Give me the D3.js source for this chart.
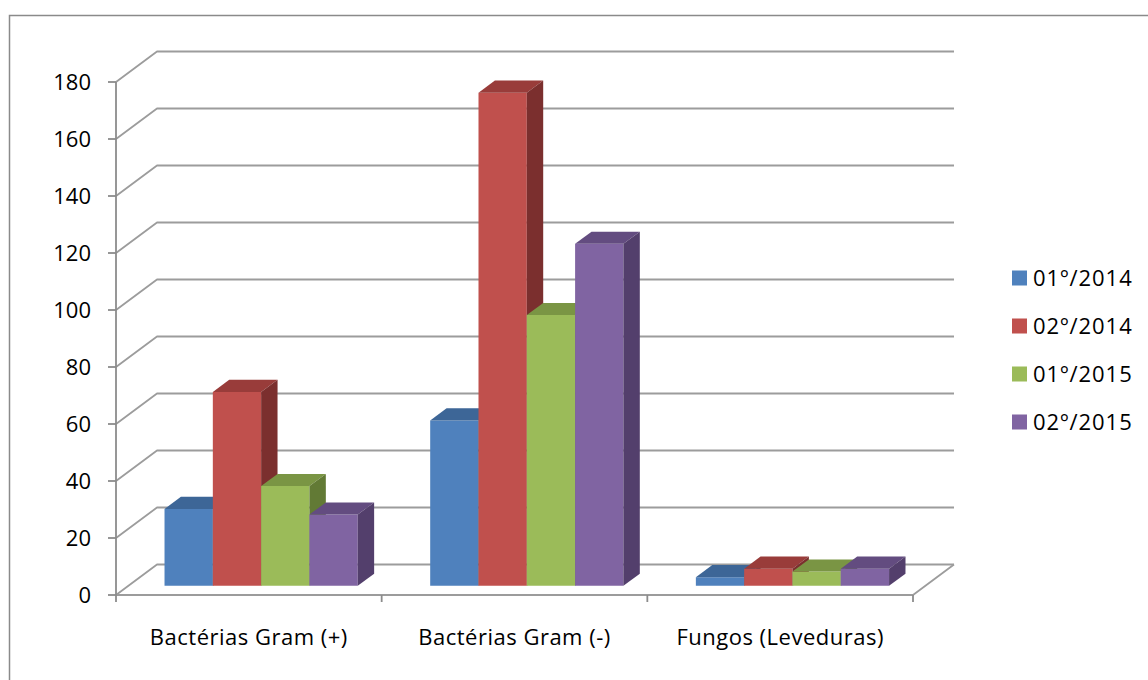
<!DOCTYPE html>
<html>
<head>
<meta charset="utf-8">
<script src="https://cdn.jsdelivr.net/npm/d3@7/dist/d3.min.js"></script>
<style>
  html, body { margin: 0; padding: 0; background: #fff; }
  svg { display: block; }
  text { font-family: "Open Sans", "Noto Sans", sans-serif; fill: #000; }
</style>
</head>
<body>
<svg id="chart" width="1148" height="680"></svg>
<script>
// Chart data
const categories = ["Bactérias Gram (+)", "Bactérias Gram (-)", "Fungos (Leveduras)"];
const series = ["01º/2014", "02º/2014", "01º/2015", "02º/2015"];
const values01_2014 = [27, 58, 3];
const values02_2014 = [68, 173, 6];
const values01_2015 = [35, 95, 5];
const values02_2015 = [25, 120, 6];
const yTicks = [0, 20, 40, 60, 80, 100, 120, 140, 160, 180];

const seriesValues = [values01_2014, values02_2014, values01_2015, values02_2015];

// Face colours per series: front, top, side
const palette = [
  { front: "#4F81BD", top: "#3D6697", side: "#2F5079" },
  { front: "#C0504D", top: "#993C3A", side: "#7B2F2E" },
  { front: "#9BBB59", top: "#7A9544", side: "#627A35" },
  { front: "#8064A2", top: "#634C80", side: "#533F6C" }
];

const svg = d3.select("#chart");

// Oblique 3D projection: depth d in [0,1] shifts a point right and up
const DX = 41, DY = -30.5;
const x0 = d3.scaleBand().domain(categories).range([116, 913]).padding(0);
const x1 = d3.scaleBand().domain(series).range([0, x0.bandwidth()]).paddingInner(0).paddingOuter(0.75);
const y = d3.scaleLinear().domain([0, 180]).range([595, 82]);
const P = (x, v, d) => [x + d * DX, y(v) + d * DY];
const poly = pts => "M" + pts.map(p => p.join(",")).join("L") + "Z";

// Outer frame
svg.append("rect")
  .attr("x", 9.5).attr("y", 15.5)
  .attr("width", 1160).attr("height", 700)
  .attr("fill", "none").attr("stroke", "#8a8a8a").attr("stroke-width", 1.5);

const grid = svg.append("g")
  .attr("fill", "none").attr("stroke", "#9c9c9c").attr("stroke-width", 1.8)
  .attr("stroke-linejoin", "round");

const xL = x0.range()[0], xR = x0.range()[1];

// Side wall and back wall gridlines
yTicks.forEach(t => {
  grid.append("path").attr("d", d3.line()([P(xL, t, 0), P(xL, t, 1), P(xR, t, 1)]));
});
// Floor right edge and front edge
grid.append("path").attr("d", d3.line()([P(xL, 0, 0), P(xR, 0, 0), P(xR, 0, 1)]));

// Value axis
const axisG = svg.append("g").attr("stroke", "#8c8c8c").attr("stroke-width", 1.8).attr("fill", "none");
axisG.append("line")
  .attr("x1", xL).attr("x2", xL)
  .attr("y1", y(0)).attr("y2", y(180));
yTicks.forEach(t => {
  axisG.append("line").attr("x1", xL - 8).attr("x2", xL).attr("y1", y(t)).attr("y2", y(t));
});
// Category axis ticks
x0.domain().concat([null]).forEach((c, i) => {
  const xx = c === null ? xR : x0(c);
  axisG.append("line").attr("x1", xx).attr("x2", xx).attr("y1", y(0)).attr("y2", y(0) + 7);
});

svg.append("g").selectAll("text").data(yTicks).join("text")
  .attr("x", 91).attr("y", d => y(d))
  .attr("dy", "0.36em")
  .attr("text-anchor", "end")
  .attr("font-size", 22)
  .text(d => d);

svg.append("g").selectAll("text").data(categories).join("text")
  .attr("x", d => x0(d) + x0.bandwidth() / 2)
  .attr("y", 645)
  .attr("text-anchor", "middle")
  .attr("font-size", 22)
  .attr("letter-spacing", 0.5)
  .text(d => d);

// Bars, drawn left to right so nearer faces overlap
const d0 = 0.3, d1 = 0.7;
const bars = svg.append("g");
categories.forEach((cat, ci) => {
  series.forEach((s, si) => {
    const v = seriesValues[si][ci];
    const xa = x0(cat) + x1(s), xb = xa + x1.bandwidth();
    const c = palette[si];
    const g = bars.append("g");
    g.append("path").attr("fill", c.front)
      .attr("d", poly([P(xa, 0, d0), P(xb, 0, d0), P(xb, v, d0), P(xa, v, d0)]));
    g.append("path").attr("fill", c.top)
      .attr("d", poly([P(xa, v, d0), P(xb, v, d0), P(xb, v, d1), P(xa, v, d1)]));
    g.append("path").attr("fill", c.side)
      .attr("d", poly([P(xb, 0, d0), P(xb, 0, d1), P(xb, v, d1), P(xb, v, d0)]));
  });
});

// Legend
const legend = svg.append("g");
series.forEach((s, i) => {
  const cy = 278 + i * 48;
  legend.append("rect")
    .attr("x", 1012).attr("y", cy - 7.5)
    .attr("width", 15).attr("height", 15)
    .attr("fill", palette[i].front);
  legend.append("text")
    .attr("x", 1033).attr("y", cy)
    .attr("dy", "0.36em")
    .attr("font-size", 22)
    .attr("letter-spacing", 1)
    .text(s);
});
</script>
</body>
</html>
